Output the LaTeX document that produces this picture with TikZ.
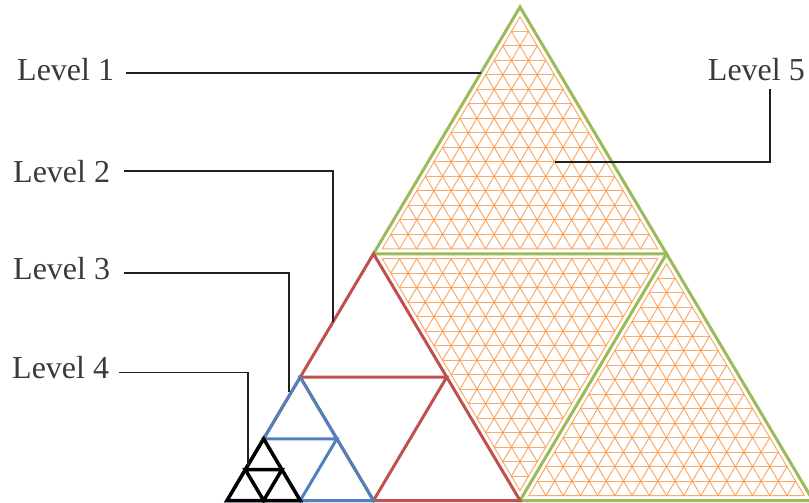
\documentclass[tikz,border=0pt]{standalone}
\usepackage{fontspec}
\setmainfont{Liberation Serif}
\usetikzlibrary{calc}
\definecolor{lgreen}{HTML}{9BBB59}
\definecolor{lred}{HTML}{C0504D}
\definecolor{lblue}{HTML}{4F81BD}
\definecolor{lorange}{HTML}{F79646}
\definecolor{ltext}{HTML}{3A3A3A}
\definecolor{lline}{HTML}{202020}
\newcommand\trigrid[3]{%
  \draw[gridline] (#1) -- (#2) -- (#3) -- cycle;
  \foreach \k in {1,...,15}{
    \draw[gridline] ($(#1)!\k/16!(#2)$) -- ($(#1)!\k/16!(#3)$);
    \draw[gridline] ($(#2)!\k/16!(#1)$) -- ($(#2)!\k/16!(#3)$);
    \draw[gridline] ($(#3)!\k/16!(#1)$) -- ($(#3)!\k/16!(#2)$);
  }}
\begin{document}
\begin{tikzpicture}[x=1pt,y=-1pt,
  gridline/.style={lorange, line width=1pt, opacity=0.8},
  gtri/.style={lgreen, line width=3pt, line join=miter},
  rtri/.style={lred, line width=3pt, line join=miter},
  btri/.style={lblue, line width=3pt, line join=miter},
  ktri/.style={black, line width=3.5pt, line join=miter},
  lbl/.style={text=ltext, inner sep=0pt, font=\fontsize{32}{38}\selectfont},
  conn/.style={lline, line width=1.6pt}]
\useasboundingbox (0,0) rectangle (809,503);
% main corners
\coordinate (A) at (520,7);
\coordinate (B) at (227,500.5);
\coordinate (C) at (813,500.5);
\coordinate (AB) at ($(A)!0.5!(B)$);
\coordinate (AC) at ($(A)!0.5!(C)$);
\coordinate (BC) at ($(B)!0.5!(C)$);
% red subdivision
\coordinate (R1) at ($(AB)!0.5!(B)$);
\coordinate (R2) at ($(AB)!0.5!(BC)$);
\coordinate (R3) at ($(B)!0.5!(BC)$);
% blue subdivision
\coordinate (U1) at ($(R1)!0.5!(B)$);
\coordinate (U2) at ($(R1)!0.5!(R3)$);
\coordinate (U3) at ($(B)!0.5!(R3)$);
% black subdivision
\coordinate (K1) at ($(U1)!0.5!(B)$);
\coordinate (K2) at ($(U1)!0.5!(U3)$);
\coordinate (K3) at ($(B)!0.5!(U3)$);
% orange grids (inset)
\coordinate (Gt) at (barycentric cs:A=1,AB=1,AC=1);
\coordinate (Gm) at (barycentric cs:AB=1,AC=1,BC=1);
\coordinate (Gr) at (barycentric cs:AC=1,BC=1,C=1);
\coordinate (t1) at ($(Gt)!0.94!(A)$);
\coordinate (t2) at ($(Gt)!0.94!(AB)$);
\coordinate (t3) at ($(Gt)!0.94!(AC)$);
\coordinate (m1) at ($(Gm)!0.94!(AB)$);
\coordinate (m2) at ($(Gm)!0.94!(AC)$);
\coordinate (m3) at ($(Gm)!0.94!(BC)$);
\coordinate (r1) at ($(Gr)!0.94!(AC)$);
\coordinate (r2) at ($(Gr)!0.94!(BC)$);
\coordinate (r3) at ($(Gr)!0.94!(C)$);
\trigrid{t1}{t2}{t3}
\trigrid{m1}{m2}{m3}
\trigrid{r1}{r2}{r3}
% green outlines
\draw[gtri] (A) -- (AB) -- (AC) -- cycle;
\draw[gtri] (AC) -- (BC) -- (C) -- cycle;
% red
\draw[rtri] (AB) -- (B) -- (BC) -- cycle;
\draw[rtri] (R1) -- (R2) -- (R3) -- cycle;
% blue
\draw[btri] (R1) -- (B) -- (R3) -- cycle;
\draw[btri] (U1) -- (U2) -- (U3) -- cycle;
% black
\draw[ktri] (U1) -- (B) -- (U3) -- cycle;
\draw[ktri] (K1) -- (K2) -- (K3) -- cycle;
% labels
\node[lbl, anchor=base west] (l1) at (17,81) {Level 1};
\node[lbl, anchor=base west] (l2) at (13,182) {Level 2};
\node[lbl, anchor=base west] (l3) at (13,279) {Level 3};
\node[lbl, anchor=base west] (l4) at (12,378) {Level 4};
\node[lbl, anchor=base east] (l5) at (805,81) {Level 5};
% connector ends
\coordinate (e1) at (480.5,73);
\coordinate (e2) at (333,322);
\coordinate (e3) at (289,392);
\coordinate (e4) at (248,466);
\coordinate (e5) at (555,162);
\draw[conn] ([xshift=12pt,yshift=8pt]l1.base east) -- (e1);
\draw[conn] ([xshift=14pt,yshift=11pt]l2.base east) -| (e2);
\draw[conn] ([xshift=14pt,yshift=6pt]l3.base east) -| (e3);
\draw[conn] ([xshift=10pt,yshift=5.5pt]l4.base east) -| (e4);
\draw[conn] ([xshift=-35pt,yshift=-8pt]l5.base east) |- (e5);
\end{tikzpicture}
\end{document}
